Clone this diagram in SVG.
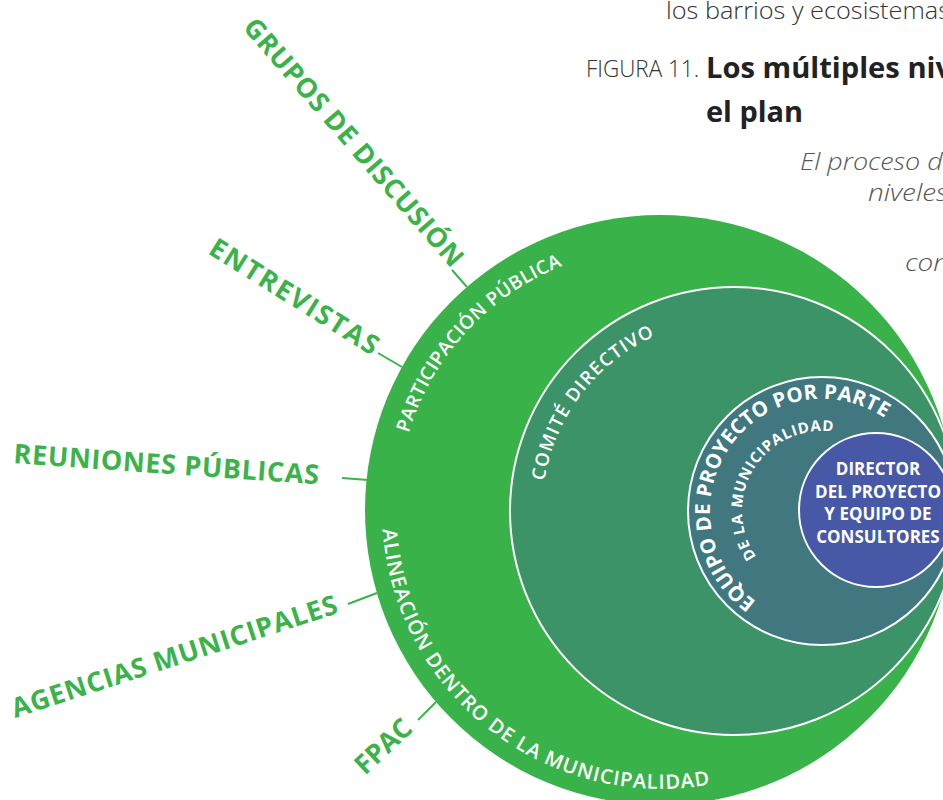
<svg xmlns="http://www.w3.org/2000/svg" width="943" height="800" viewBox="0 0 943 800">
<style>
.hdr{font-family:"Open Sans","Liberation Sans",sans-serif;fill:#333}
.lt{font-weight:300}
.bd{font-weight:700;fill:#222}
.it{font-family:"Open Sans","Liberation Sans",sans-serif;font-style:italic;font-weight:300;font-size:24px;fill:#555}
.lbl{font-family:"Open Sans","Liberation Sans",sans-serif;font-weight:700;font-size:27px;fill:#3bb34a}
.arc{font-family:"Open Sans","Liberation Sans",sans-serif;font-weight:600;fill:#fff}
.arcb{font-family:"Open Sans","Liberation Sans",sans-serif;font-weight:700;fill:#fff}
.ctr{font-family:"Open Sans","Liberation Sans",sans-serif;font-weight:700;font-size:17px;fill:#fff;text-anchor:middle}
.conn{stroke:#3bb34a;stroke-width:2;fill:none}
.ring{stroke:#fff;stroke-width:2}
</style>
<defs>
<path id="pPart" d="M 408.5 433.1 A 263 263 0 0 1 570.1 262.9"/>
<path id="pAlin" d="M 382.7 529.4 A 279 279 0 0 0 708.4 784.8"/>
<path id="pComi" d="M 544.4 481 A 192 192 0 0 1 655.9 335.6"/>
<path id="pEqui" d="M 756.2 601.6 A 112 112 0 1 1 907.8 439"/>
<path id="pMuni" d="M 756.5 556.9 A 80 80 0 0 1 862 441.7"/>
</defs>

<g id="header">
<text class="hdr lt" x="666" y="19" font-size="24" textLength="284" lengthAdjust="spacingAndGlyphs">los barrios y ecosistemas</text>
<text class="hdr lt" x="586" y="77" font-size="24" textLength="113" lengthAdjust="spacingAndGlyphs">FIGURA 11.</text>
<text class="hdr bd" x="706" y="78" font-size="28" textLength="246" lengthAdjust="spacingAndGlyphs">Los múltiples niv</text>
<text class="hdr bd" x="706" y="122" font-size="28" textLength="97" lengthAdjust="spacingAndGlyphs">el plan</text>
<text class="it" x="800" y="170" textLength="156" lengthAdjust="spacingAndGlyphs">El proceso de</text>
<text class="it" x="868" y="201" textLength="80" lengthAdjust="spacingAndGlyphs">niveles</text>
<text class="it" x="905" y="271" textLength="44" lengthAdjust="spacingAndGlyphs">con</text>
</g>

<g id="connectors">
<line class="conn" x1="452" y1="270" x2="467" y2="287"/>
<line class="conn" x1="378" y1="353" x2="402" y2="367"/>
<line class="conn" x1="342" y1="478" x2="368" y2="480"/>
<line class="conn" x1="348" y1="604" x2="377" y2="593"/>
<line class="conn" x1="418" y1="720" x2="436" y2="702"/>
</g>

<g id="outer">
<circle cx="660" cy="510" r="295" fill="#39b24a"/>
<text class="arc" font-size="19" letter-spacing="0.4"><textPath href="#pPart">PARTICIPACIÓN PÚBLICA</textPath></text>
<text class="arc" font-size="20" letter-spacing="1"><textPath href="#pAlin">ALINEACIÓN DENTRO DE LA MUNICIPALIDAD</textPath></text>
</g>

<g id="comite">
<circle class="ring" cx="734" cy="511" r="224" fill="#3c9368"/>
<text class="arc" font-size="18.5" letter-spacing="1.3"><textPath href="#pComi">COMITÉ DIRECTIVO</textPath></text>
</g>

<g id="equipo">
<circle class="ring" cx="822" cy="511" r="134" fill="#41787f"/>
<text class="arcb" font-size="20.5" letter-spacing="0.2"><textPath href="#pEqui">EQUIPO DE PROYECTO POR PARTE</textPath></text>
<text class="arcb" font-size="15" letter-spacing="0.9"><textPath href="#pMuni">DE LA MUNICIPALIDAD</textPath></text>
</g>

<g id="director">
<circle class="ring" cx="876" cy="510" r="77" fill="#4758a6"/>
<text class="ctr" x="878" y="475">DIRECTOR</text>
<text class="ctr" x="878" y="498">DEL PROYECTO</text>
<text class="ctr" x="878" y="520">Y EQUIPO DE</text>
<text class="ctr" x="878" y="543">CONSULTORES</text>
</g>

<g id="labels">
<text class="lbl" transform="translate(242,28) rotate(49)" textLength="319" lengthAdjust="spacing">GRUPOS DE DISCUSIÓN</text>
<text class="lbl" transform="translate(207,253) rotate(32)" textLength="194" lengthAdjust="spacing">ENTREVISTAS</text>
<text class="lbl" transform="translate(13,463) rotate(4)" textLength="306" lengthAdjust="spacing">REUNIONES PÚBLICAS</text>
<text class="lbl" transform="translate(15,718) rotate(-18)" textLength="341" lengthAdjust="spacing">AGENCIAS MUNICIPALES</text>
<text class="lbl" transform="translate(365,776) rotate(-43)" textLength="67" lengthAdjust="spacing">FPAC</text>
</g>
</svg>
